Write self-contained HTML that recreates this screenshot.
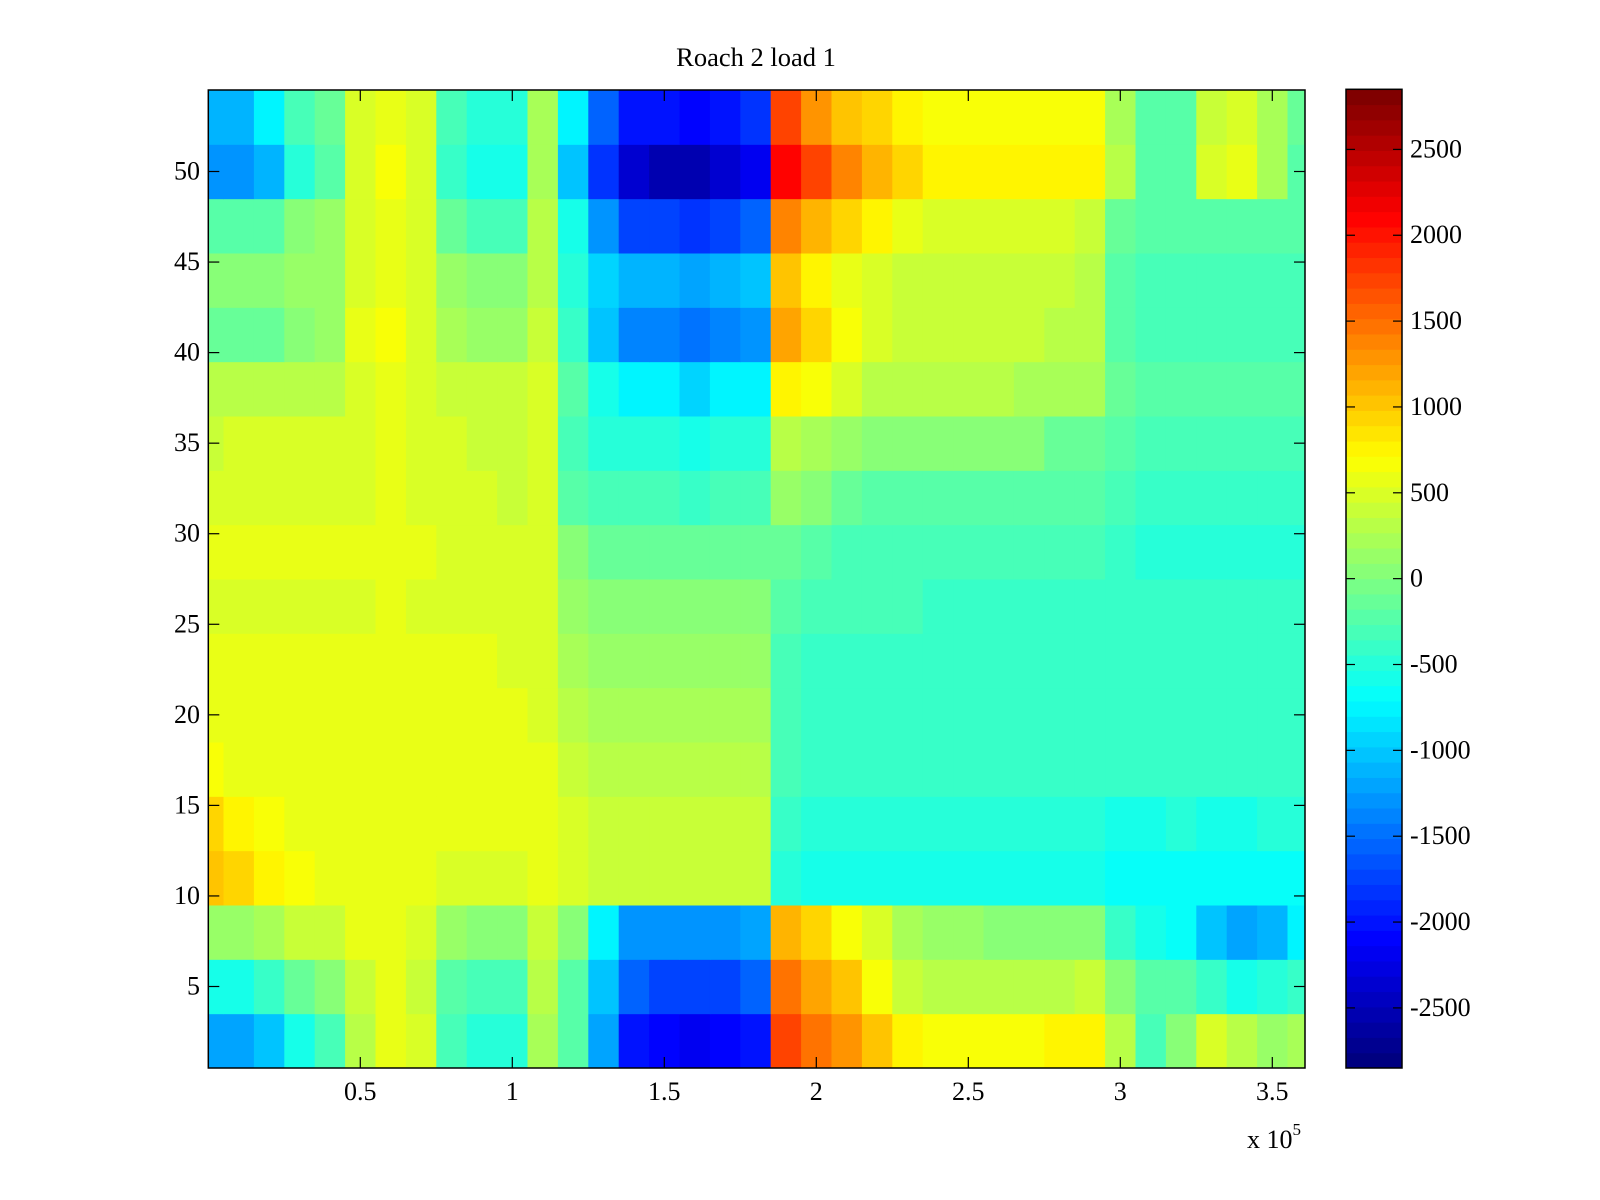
<!DOCTYPE html>
<html><head><meta charset="utf-8"><style>
html,body{margin:0;padding:0;background:#fff;}
svg{display:block;font-family:"Liberation Serif",serif;}
</style></head><body>
<svg id="chart" width="1600" height="1200" viewBox="0 0 1600 1200" xmlns="http://www.w3.org/2000/svg">
<rect width="1600" height="1200" fill="#fff"/>
<text x="756" y="66" font-size="26.5" text-anchor="middle">Roach 2 load 1</text>
<g id="cells"></g>
<g id="cbar"></g>
<g id="axes"></g>
<text x="1247" y="1148" font-size="26">x 10<tspan font-size="17" dy="-13">5</tspan></text>
</svg>
<script>
// x bin centers (in units of 1e4), row groups of 3 rows each (bottom to top), values in hundreds
const xCenters = [0,1,2,3,4,5,6,7,8,9,10,11,12,13,14,15,16,17,18,19,20,21,22,23,24,25,26,27,28,29,30,31,32,33,34,35,36];
const rowGroupStarts = [1,4,7,10,13,16,19,22,25,28,31,34,37,40,43,46,49,52];
const g0 = [-12,-12,-10,-6,-3,3,6,5,-3,-5,-5,2,-2,-12,-20,-21,-22,-21,-20,17,15,13,10,8,7,7,7,7,8,8,3,-3,0,5,3,1,2];
const g1 = [-6,-6,-4,-1,0,4,6,4,-2,-3,-3,3,-2,-10,-16,-17,-17,-17,-16,15,12,10,7,4,3,3,3,3,3,4,0,-2,-2,-4,-6,-5,-4];
const g2 = [1,1,2,4,4,6,6,5,1,0,0,4,0,-8,-13,-13,-13,-13,-12,11,9,7,5,2,1,1,0,0,0,0,-4,-6,-7,-10,-12,-11,-8];
const g3 = [10,9,8,7,6,6,6,6,5,5,5,6,5,4,4,4,4,4,4,-5,-6,-6,-6,-6,-6,-6,-6,-6,-6,-6,-7,-7,-7,-7,-7,-7,-7];
const g4 = [9,8,7,6,6,6,6,6,6,6,6,6,5,4,4,4,4,4,4,-4,-5,-5,-5,-5,-5,-5,-5,-5,-5,-5,-6,-6,-5,-6,-6,-5,-5];
const g5 = [7,6,6,6,6,6,6,6,6,6,6,6,4,3,3,3,3,3,3,-3,-4,-4,-4,-4,-4,-4,-4,-4,-4,-4,-4,-4,-4,-4,-4,-4,-4];
const g6 = [6,6,6,6,6,6,6,6,6,6,6,5,3,2,2,2,2,2,2,-3,-4,-4,-4,-4,-4,-4,-4,-4,-4,-4,-4,-4,-4,-4,-4,-4,-4];
const g7 = [6,6,6,6,6,6,6,6,6,6,5,5,2,1,1,1,1,1,1,-3,-4,-4,-4,-4,-4,-4,-4,-4,-4,-4,-4,-4,-4,-4,-4,-4,-4];
const g8 = [5,5,5,5,5,5,6,5,5,5,5,5,1,0,0,0,0,0,0,-2,-3,-3,-3,-3,-4,-4,-4,-4,-4,-4,-4,-4,-4,-4,-4,-4,-4];
const g9 = [6,6,6,6,6,6,6,6,5,5,5,5,0,-1,-1,-1,-1,-1,-1,-1,-2,-3,-3,-3,-3,-3,-3,-3,-3,-3,-4,-5,-5,-5,-5,-5,-5];
const g10 = [5,5,5,5,5,5,6,5,5,5,4,5,-2,-3,-3,-3,-4,-3,-3,1,0,-1,-2,-2,-2,-2,-2,-2,-2,-2,-3,-4,-4,-4,-4,-4,-4];
const g11 = [4,5,5,5,5,5,6,5,5,4,4,5,-3,-5,-5,-5,-6,-5,-5,3,2,1,0,0,0,0,0,0,-1,-1,-2,-3,-3,-3,-3,-3,-3];
const g12 = [3,3,3,3,3,5,6,5,4,4,4,5,-2,-6,-8,-8,-9,-8,-8,8,7,5,3,3,3,3,3,2,2,2,-1,-2,-2,-2,-2,-2,-2];
const g13 = [-1,-1,-1,0,1,6,7,5,2,1,1,4,-4,-10,-14,-14,-15,-14,-13,12,9,7,5,4,4,4,4,4,3,3,-2,-3,-3,-3,-3,-3,-3];
const g14 = [0,0,0,1,1,5,6,5,1,0,0,3,-5,-9,-11,-11,-12,-11,-10,10,8,6,5,4,4,4,4,4,4,3,-2,-3,-3,-3,-3,-3,-3];
const g15 = [-2,-2,-2,0,1,5,6,5,-1,-3,-3,3,-6,-13,-17,-17,-18,-17,-16,14,11,9,8,6,5,5,5,5,5,4,-1,-2,-2,-2,-2,-2,-2];
const g16 = [-13,-13,-11,-5,-2,5,7,5,-4,-6,-6,2,-10,-18,-24,-25,-25,-24,-22,21,17,14,11,9,8,8,8,8,8,8,3,-2,-2,5,6,2,-2];
const g17 = [-11,-11,-8,-3,-1,5,6,5,-3,-5,-5,2,-8,-16,-20,-20,-21,-20,-18,17,13,10,9,8,7,7,7,7,7,7,2,-2,-2,4,5,2,-1];
const groups = [g0,g1,g2,g3,g4,g5,g6,g7,g8,g9,g10,g11,g12,g13,g14,g15,g16,g17];
const xTicks = [0.5,1,1.5,2,2.5,3,3.5];
const xTickLabels = ["0.5","1","1.5","2","2.5","3","3.5"];
const yTicks = [5,10,15,20,25,30,35,40,45,50];
const cbTicks = [-2500,-2000,-1500,-1000,-500,0,500,1000,1500,2000,2500];
const cmin = -2850, cmax = 2850;

const NS = "http://www.w3.org/2000/svg";
const L = 208.3, R = 1305, T = 90, B = 1068;
const xMax = 3.607e5;
function xs(v){ return L + v / 1e5 * 304; }
function ys(v){ return B - (v - 0.5) * (B - T) / 54; }
function jet(v){
  let t = (v - cmin) / (cmax - cmin);
  let i = Math.max(0, Math.min(63, Math.floor(t * 64)));
  t = i / 63;
  const c = x => Math.round(255 * Math.max(0, Math.min(1, x)));
  return "rgb(" + c(1.5 - Math.abs(4*t - 3)) + "," + c(1.5 - Math.abs(4*t - 2)) + "," + c(1.5 - Math.abs(4*t - 1)) + ")";
}
function mk(tag, attrs, parent){
  const e = document.createElementNS(NS, tag);
  for (const k in attrs) e.setAttribute(k, attrs[k]);
  parent.appendChild(e); return e;
}
const cells = document.getElementById("cells");
groups.forEach((row, gi) => {
  const r0 = rowGroupStarts[gi];
  const y1 = ys(r0 - 0.5), y0 = ys(r0 + 2.5);
  row.forEach((v, ci) => {
    const a = Math.max(0, (xCenters[ci] - 0.5) * 1e4);
    const b = Math.min(xMax, (xCenters[ci] + 0.5) * 1e4);
    const r = mk("rect", {x: xs(a), y: y0, width: xs(b) - xs(a) + 0.5, height: y1 - y0 + 0.5, fill: jet(v * 100)}, cells);
    
    
  });
});
const axes = document.getElementById("axes");
const frame = mk("rect", {x: L, y: T, width: R - L, height: B - T, fill: "none", stroke: "#000", "stroke-width": 1.5}, axes);


xTicks.forEach((v, i) => {
  const x = xs(v * 1e5);
  mk("line", {x1: x, x2: x, y1: B, y2: B - 11, stroke: "#000", "stroke-width": 1.2}, axes);
  mk("line", {x1: x, x2: x, y1: T, y2: T + 11, stroke: "#000", "stroke-width": 1.2}, axes);
  const t = mk("text", {x: x, y: 1100, "font-size": 26, "text-anchor": "middle"}, axes);
  t.textContent = xTickLabels[i];
  
  
});
yTicks.forEach(v => {
  const y = ys(v);
  mk("line", {x1: L, x2: L + 11, y1: y, y2: y, stroke: "#000", "stroke-width": 1.2}, axes);
  mk("line", {x1: R, x2: R - 11, y1: y, y2: y, stroke: "#000", "stroke-width": 1.2}, axes);
  const t = mk("text", {x: 200, y: y + 8, "font-size": 26, "text-anchor": "end"}, axes);
  t.textContent = String(v);
  
  
});
const cb = document.getElementById("cbar");
const CL = 1346, CR = 1402, CT = 89.3, CB = 1068;
function cy(v){ return CB - (v - cmin) / (cmax - cmin) * (CB - CT); }
for (let i = 0; i < 64; i++) {
  const v0 = cmin + i * (cmax - cmin) / 64, v1 = cmin + (i + 1) * (cmax - cmin) / 64;
  const r = mk("rect", {x: CL, y: cy(v1), width: CR - CL, height: cy(v0) - cy(v1) + 0.5, fill: jet((v0 + v1) / 2)}, cb);
  
  
}
mk("rect", {x: CL, y: CT, width: CR - CL, height: CB - CT, fill: "none", stroke: "#000", "stroke-width": 1.5}, cb);
cbTicks.forEach(v => {
  const y = cy(v);
  mk("line", {x1: CL, x2: CL + 9, y1: y, y2: y, stroke: "#000", "stroke-width": 1.2}, cb);
  mk("line", {x1: CR, x2: CR - 9, y1: y, y2: y, stroke: "#000", "stroke-width": 1.2}, cb);
  const t = mk("text", {x: 1410, y: y + 8, "font-size": 26}, cb);
  t.textContent = String(v);
  
  
});
</script>
</body></html>
